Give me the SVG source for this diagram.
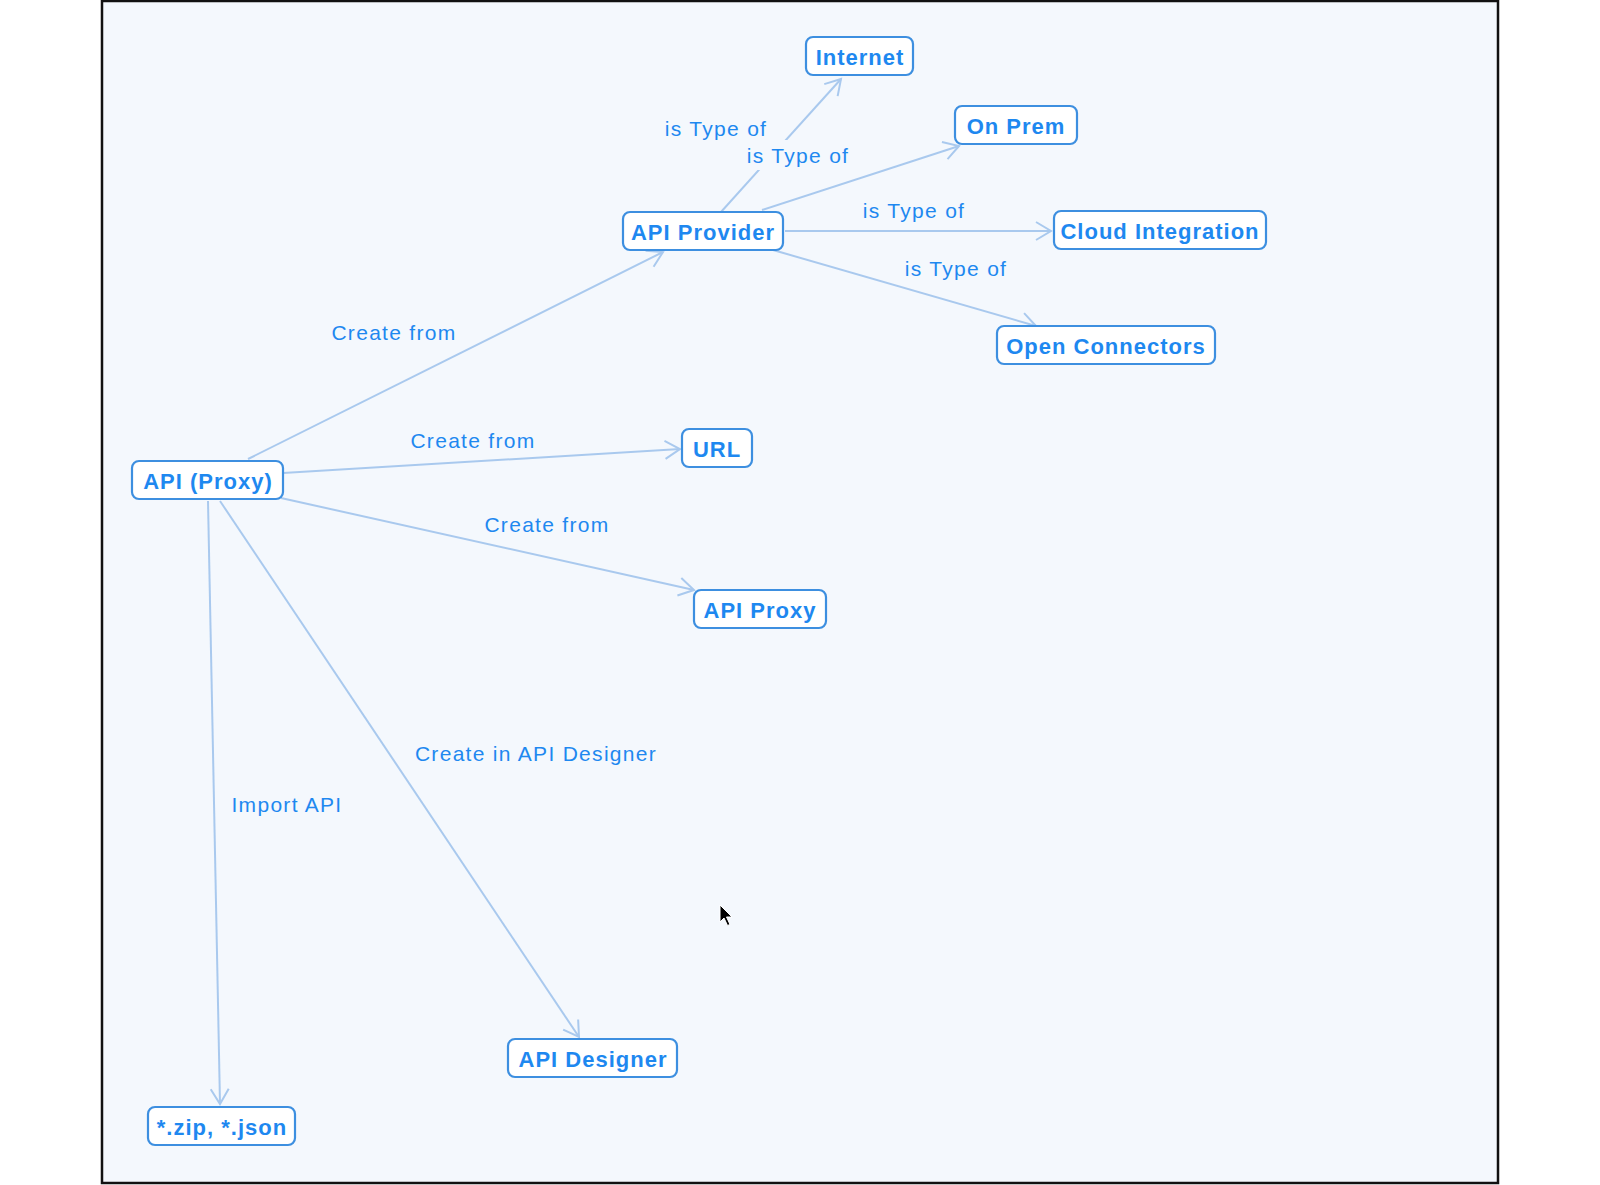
<svg xmlns="http://www.w3.org/2000/svg" width="1600" height="1185" viewBox="0 0 1600 1185">
<defs>
<style>
.node rect{fill:#ffffff;stroke:#3d8fe0;stroke-width:2.2}
.node text{font-family:"Liberation Sans",Arial,sans-serif;font-weight:bold;font-size:22px;fill:#1e88f0;text-anchor:middle;letter-spacing:1px}
.edge{stroke:#a9c9ee;stroke-width:2;fill:none;marker-end:url(#arr)}
.lbl{font-family:"Liberation Sans",Arial,sans-serif;font-size:21px;fill:#1e88f0;text-anchor:middle;letter-spacing:1.3px}
.lblbg{fill:#f4f8fd}
</style>
<marker id="arr" markerUnits="userSpaceOnUse" markerWidth="20" markerHeight="22" refX="15" refY="9" orient="auto" overflow="visible">
<path d="M0,0 L15,9 L0,18" fill="none" stroke="#a9c9ee" stroke-width="2"/>
</marker>
</defs>
<rect x="0" y="0" width="1600" height="1185" fill="#ffffff"/>
<rect x="102" y="1" width="1396" height="1182" fill="#f4f8fd" stroke="#111111" stroke-width="2.5"/>

<g id="connectors">
<line class="edge" x1="248" y1="459" x2="663" y2="252"/>
<line class="edge" x1="283" y1="473" x2="680" y2="449"/>
<line class="edge" x1="281" y1="498" x2="694" y2="590"/>
<line class="edge" x1="220" y1="501" x2="579" y2="1037"/>
<line class="edge" x1="208" y1="501" x2="220" y2="1104"/>
<line class="edge" x1="721" y1="212" x2="841" y2="79"/>
<line class="edge" x1="762" y1="210" x2="959" y2="146"/>
<line class="edge" x1="785" y1="231" x2="1051" y2="231"/>
<line class="edge" x1="773" y1="250" x2="1036" y2="326"/>
</g>

<g id="labels">
<text class="lbl" x="716" y="136">is Type of</text>
<rect class="lblbg" x="742" y="140" width="112" height="30"/>
<text class="lbl" x="798" y="163">is Type of</text>
<text class="lbl" x="914" y="218">is Type of</text>
<text class="lbl" x="956" y="276">is Type of</text>
<text class="lbl" x="394" y="340">Create from</text>
<text class="lbl" x="473" y="448">Create from</text>
<text class="lbl" x="547" y="532">Create from</text>
<text class="lbl" x="536" y="761">Create in API Designer</text>
<text class="lbl" x="287" y="812">Import API</text>
</g>

<g id="n-internet" class="node"><rect x="806" y="37" width="107" height="38" rx="7"/><text x="860" y="65">Internet</text></g>
<g id="n-onprem" class="node"><rect x="955" y="106" width="122" height="38" rx="7"/><text x="1016" y="134">On Prem</text></g>
<g id="n-apiprovider" class="node"><rect x="623" y="212" width="160" height="38" rx="7"/><text x="703" y="240">API Provider</text></g>
<g id="n-cloud" class="node"><rect x="1054" y="211" width="212" height="38" rx="7"/><text x="1160" y="239">Cloud Integration</text></g>
<g id="n-openconn" class="node"><rect x="997" y="326" width="218" height="38" rx="7"/><text x="1106" y="354">Open Connectors</text></g>
<g id="n-url" class="node"><rect x="682" y="429" width="70" height="38" rx="7"/><text x="717" y="457">URL</text></g>
<g id="n-apiproxy2" class="node"><rect x="694" y="590" width="132" height="38" rx="7"/><text x="760" y="618">API Proxy</text></g>
<g id="n-apiproxy" class="node"><rect x="132" y="461" width="151" height="38" rx="7"/><text x="208" y="489">API (Proxy)</text></g>
<g id="n-apidesigner" class="node"><rect x="508" y="1039" width="169" height="38" rx="7"/><text x="593" y="1067">API Designer</text></g>
<g id="n-zip" class="node"><rect x="148" y="1107" width="147" height="38" rx="7"/><text x="222" y="1135">*.zip, *.json</text></g>

<path d="M720,905 L720,922 L724,918 L727.5,925.5 L730,924.5 L726.5,917 L732,917 Z" fill="#000000" stroke="#ffffff" stroke-width="1"/>
</svg>
